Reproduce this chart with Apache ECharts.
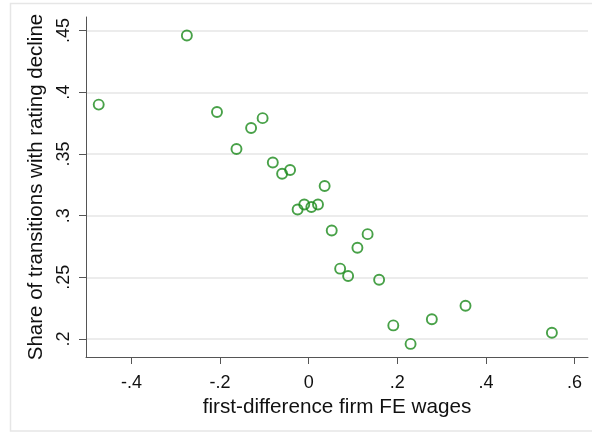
<!DOCTYPE html>
<html>
<head>
<meta charset="utf-8">
<script src="https://cdn.jsdelivr.net/npm/echarts@6/dist/echarts.min.js"></script>
<style>
  html, body { margin: 0; padding: 0; background: #fff; }
  #chart { width: 592px; height: 433px; }
</style>
</head>
<body>
<div id="chart"></div>
<script>
// Binned scatter: wage change (x) vs share of rating declines (y)
const wageChange = [-0.474, -0.275, -0.207, -0.163, -0.130, -0.104, -0.081, -0.060, -0.042,
  -0.025, -0.010, 0.006, 0.021, 0.036, 0.052, 0.071, 0.089, 0.110, 0.133, 0.159,
  0.191, 0.230, 0.278, 0.354, 0.549];
const declineShare = [0.390, 0.446, 0.384, 0.354, 0.371, 0.379, 0.343, 0.334, 0.337,
  0.305, 0.309, 0.307, 0.309, 0.324, 0.288, 0.257, 0.251, 0.274, 0.285, 0.248,
  0.211, 0.196, 0.216, 0.227, 0.205];

const xTicks = [-0.4, -0.2, 0, 0.2, 0.4, 0.6];
const yTicks = [0.2, 0.25, 0.3, 0.35, 0.4, 0.45];

const xTitle = 'first-difference firm FE wages';
const yTitle = 'Share of transitions with rating decline';

// Stata-style number labels: drop the leading zero (".25", "-.4")
const fmt = v => v === 0 ? '0' : String(v).replace(/^(-?)0\./, '$1.');

const points = wageChange.map((x, i) => [x, declineShare[i]]);
const FONT = 'Liberation Sans, Arial, sans-serif';
const green = '#1a8a1a';

const chart = echarts.init(document.getElementById('chart'), null, { renderer: 'canvas' });
chart.setOption({
  animation: false,
  backgroundColor: '#ffffff',
  graphic: [{
    type: 'rect',
    silent: true,
    z: -10,
    shape: { x: 10.5, y: 3.5, width: 620, height: 427.5 },
    style: { fill: 'none', stroke: '#e6e6e6', lineWidth: 1.5 }
  }],
  grid: { left: 86, right: 4, top: 17, bottom: 76, containLabel: false },
  xAxis: {
    type: 'value',
    min: -0.5027,
    max: 0.6305,
    name: xTitle,
    nameLocation: 'middle',
    nameGap: 35,
    nameTextStyle: { fontFamily: FONT, fontSize: 20.7, color: '#111' },
    axisLine: { show: true, onZero: false, lineStyle: { color: '#555', width: 1 } },
    axisTick: { show: true, length: 7, customValues: xTicks, lineStyle: { color: '#555', width: 1 } },
    axisLabel: { customValues: xTicks, formatter: fmt, margin: 17, fontFamily: FONT, fontSize: 18, color: '#111' },
    splitLine: { show: false }
  },
  yAxis: {
    type: 'value',
    min: 0.1854,
    max: 0.461,
    name: yTitle,
    nameLocation: 'middle',
    nameGap: 33,
    nameTextStyle: { fontFamily: FONT, fontSize: 20.5, color: '#111' },
    axisLine: { show: true, onZero: false, lineStyle: { color: '#555', width: 1 } },
    axisTick: { show: true, length: 7, customValues: yTicks, lineStyle: { color: '#555', width: 1 } },
    axisLabel: { customValues: yTicks, formatter: fmt, rotate: 90, margin: 13, fontFamily: FONT, fontSize: 18, color: '#111' },
    splitLine: { show: true, lineStyle: { color: '#e6e6e6', width: 1.5 } }
  },
  series: [{
    type: 'scatter',
    data: points,
    symbol: 'circle',
    symbolSize: 10,
    itemStyle: { color: 'rgba(0,0,0,0)', borderColor: green, borderWidth: 1.9 },
    emphasis: { disabled: true }
  }]
});
</script>
</body>
</html>
